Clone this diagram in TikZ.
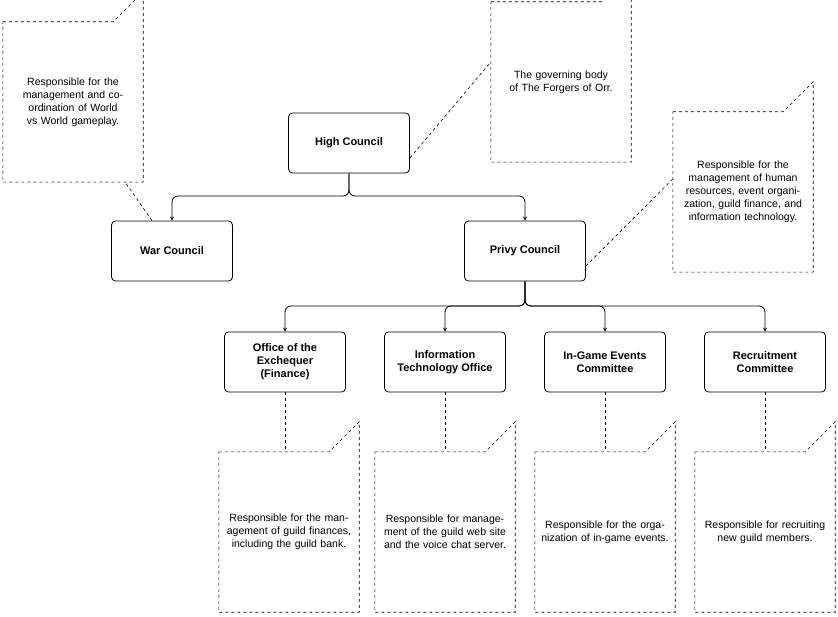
\documentclass[tikz,border=0pt]{standalone}
\usepackage{fontspec}
\setmainfont{Liberation Sans}
\begin{document}
\begin{tikzpicture}[x=1pt,y=-1pt,
 box/.style={draw,rounded corners=4pt,minimum width=121pt,minimum height=60pt,font=\fontsize{11}{13}\selectfont\bfseries,align=center,line width=0.8pt},
 note/.style={minimum width=140pt,minimum height=160pt,font=\fontsize{10.5}{13}\selectfont,align=center,text width=130pt},
 arr/.style={->,>=stealth,line width=0.8pt},
 lnk/.style={dashed,line width=0.6pt}]
\useasboundingbox (0,0) rectangle (838,617);
\newcommand{\dogear}[1]{\draw[lnk] (#1.north west) -- ([xshift=-30pt]#1.north east) -- ([yshift=30pt]#1.north east) -- (#1.south east) -- (#1.south west) -- cycle;}
\node[box] (hc) at (349,143) {High Council};
\node[box] (wc) at (172,251) {War Council};
\node[box] (pc) at (525,251) {Privy Council};
\node[box] (of) at (285,362) {Office of the\\Exchequer\\(Finance)};
\node[box] (it) at (445,362) {Information\\Technology Office};
\node[box] (ig) at (605,362) {In-Game Events\\Committee};
\node[box] (rc) at (765,362) {Recruitment\\Committee};
\node[note] (n1) at (73,102) {Responsible for the management and coordination of World vs World gameplay.};
\node[note] (n2) at (561,82) {The governing body of The Forgers of Orr.};
\node[note] (n3) at (743,192) {Responsible for the management of human resources, event organization, guild finance, and information technology.};
\node[note] (n4) at (289,532) {Responsible for the management of guild finances, including the guild bank.};
\node[note] (n5) at (445,532) {Responsible for management of the guild web site and the voice chat server.};
\node[note] (n6) at (605,532) {Responsible for the organization of in-game events.};
\node[note] (n7) at (765,532) {Responsible for recruiting new guild members.};
\foreach \n in {n1,n2,n3,n4,n5,n6,n7}{\dogear{\n}}
\coordinate (j1) at (349,196);
\coordinate (j2) at (525,306);
\draw[arr,rounded corners=6pt] (hc.south) -- (j1) -| (wc.north);
\draw[arr,rounded corners=6pt] (hc.south) -- (j1) -| (pc.north);
\foreach \t in {of,it,ig,rc}{\draw[arr,rounded corners=6pt] (pc.south) -- (j2) -| (\t.north);}
\draw[lnk] ([yshift=-15pt]hc.east) -- ([yshift=20pt]n2.west);
\draw[lnk] ([xshift=-20pt]wc.north) -- (125,182);
\draw[lnk] ([yshift=-15pt]pc.east) -- ([yshift=13pt]n3.west);
\draw[lnk] (of.south) -- (of.south |- n4.north);
\draw[lnk] (it.south) -- (n5.north);
\draw[lnk] (ig.south) -- (n6.north);
\draw[lnk] (rc.south) -- (n7.north);
\end{tikzpicture}
\end{document}
